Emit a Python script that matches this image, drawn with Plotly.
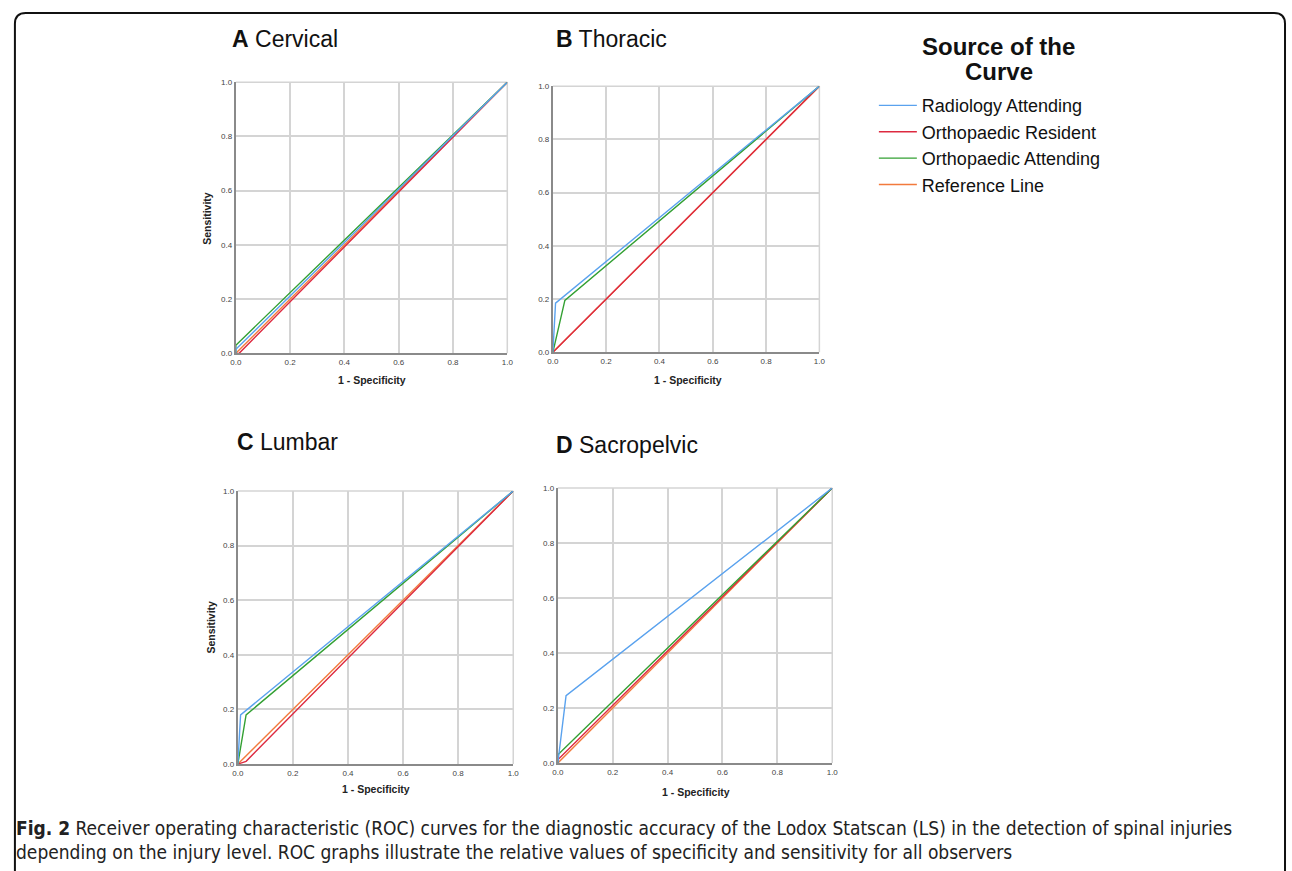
import plotly.graph_objects as go

# ---------------- data ----------------
panels = ["A", "B", "C", "D"]
panel_names = ["Cervical", "Thoracic", "Lumbar", "Sacropelvic"]
series = ["Radiology Attending", "Orthopaedic Resident", "Orthopaedic Attending", "Reference Line"]
colors = ["#5aa2ee", "#dd2a40", "#33a033", "#f27a3c"]

# ROC points (1 - specificity, sensitivity) for each panel / series
radiology_x = [[0, 0.0, 1], [0, 0.01, 1], [0, 0.01, 1], [0, 0.03, 1]]
radiology_y = [[0, 0.015, 1], [0, 0.185, 1], [0, 0.18, 1], [0, 0.245, 1]]
resident_x = [[0, 0.012, 1], [0, 0.002, 1], [0, 0.03, 1], [0, 0.0, 1]]
resident_y = [[0, 0.0, 1], [0, 0.002, 1], [0, 0.01, 1], [0, 0.012, 1]]
ortho_att_x = [[0, 0.0, 1], [0, 0.045, 1], [0, 0.03, 1], [0, 0.0, 1]]
ortho_att_y = [[0, 0.03, 1], [0, 0.195, 1], [0, 0.18, 1], [0, 0.03, 1]]
ref_x = [0, 1]
ref_y = [0, 1]

tick_vals = [0.0, 0.2, 0.4, 0.6, 0.8, 1.0]
tick_text = ["0.0", "0.2", "0.4", "0.6", "0.8", "1.0"]

caption_1 = ("<b>Fig. 2</b> Receiver operating characteristic (ROC) curves for the diagnostic accuracy "
             "of the Lodox Statscan (LS) in the detection of spinal injuries")
caption_2 = ("depending on the injury level. ROC graphs illustrate the relative values of specificity "
             "and sensitivity for all observers")

# ---------------- layout helpers ----------------
W, H = 1292, 871


def px(x):
    return x / W


def py(y):
    return 1 - y / H


# plot boxes in pixels: (left, right, top, bottom)
boxes = [(232, 506, 79, 353), (552, 821, 83, 352), (234, 512, 492, 768), (557, 834, 489, 767)]
title_pos = [(226, 35), (553, 35), (231, 443), (553, 446)]
xtitle_pos = [(369, 380), (688, 380), (373, 793), (696, 796)]
ytitle_pos = {0: (203, 217), 2: (207, 630)}

fig = go.Figure()
font_main = "Liberation Sans, Arial, sans-serif"

annotations = []
shapes = []
for i in range(4):
    xa = "x" if i == 0 else f"x{i+1}"
    ya = "y" if i == 0 else f"y{i+1}"
    show = (i == 0)
    data = [
        (ref_x, ref_y, 3, 4),
        (resident_x[i], resident_y[i], 1, 2),
        (ortho_att_x[i], ortho_att_y[i], 2, 3),
        (radiology_x[i], radiology_y[i], 0, 1),
    ]
    for xs, ys, si, rank in data:
        fig.add_trace(go.Scatter(
            x=xs, y=ys, mode="lines", name=series[si],
            line=dict(color=colors[si], width=1.4),
            xaxis=xa, yaxis=ya, showlegend=show, legendrank=rank,
            hoverinfo="skip"))
    l, r, t, b = boxes[i]
    ax = dict(domain=[px(l), px(r)], range=[0, 1], tickvals=tick_vals, ticktext=tick_text,
              showgrid=True, gridcolor="#d4d4d4", gridwidth=1.5, zeroline=False,
              showline=True, linecolor="#8a8a8a", linewidth=2, ticks="",
              tickfont=dict(size=8, color="#444", family=font_main), fixedrange=True)
    xkey = "xaxis" if i == 0 else f"xaxis{i+1}"
    ykey = "yaxis" if i == 0 else f"yaxis{i+1}"
    xd = dict(ax)
    xd["anchor"] = ya
    yd = dict(ax)
    yd["domain"] = [py(b), py(t)]
    yd["anchor"] = xa
    fig.update_layout({xkey: xd, ykey: yd})

    # grid lines at 1.0 (top and right edges)
    shapes.append(dict(type="line", xref=f"{xa} domain", yref=f"{ya} domain",
                       x0=1, x1=1, y0=0, y1=1, line=dict(color="#d4d4d4", width=1.5), layer="below"))
    shapes.append(dict(type="line", xref=f"{xa} domain", yref=f"{ya} domain",
                       x0=0, x1=1, y0=1, y1=1, line=dict(color="#d4d4d4", width=1.5), layer="below"))

    # panel title
    tx, ty = title_pos[i]
    annotations.append(dict(
        text=f"<b>{panels[i]}</b> {panel_names[i]}", x=px(tx), y=py(ty),
        xref="paper", yref="paper", xanchor="left", yanchor="middle",
        showarrow=False, font=dict(size=23, color="#111", family=font_main)))
    # x-axis title
    ax_x, ax_y = xtitle_pos[i]
    annotations.append(dict(
        text="<b>1 - Specificity</b>", x=px(ax_x), y=py(ax_y), xref="paper", yref="paper",
        xanchor="center", yanchor="middle", showarrow=False,
        font=dict(size=10.5, color="#222", family=font_main)))
    if i in ytitle_pos:
        yx, yy = ytitle_pos[i]
        annotations.append(dict(
            text="<b>Sensitivity</b>", x=px(yx), y=py(yy), xref="paper", yref="paper",
            xanchor="center", yanchor="middle", textangle=-90, showarrow=False,
            font=dict(size=10.5, color="#222", family=font_main)))

# legend title (two lines)
annotations.append(dict(
    text="<b>Source of the</b>", x=px(1002), y=py(43), xref="paper", yref="paper",
    xanchor="center", yanchor="middle", showarrow=False,
    font=dict(size=24, color="#111", family=font_main)))
annotations.append(dict(
    text="<b>Curve</b>", x=px(1002), y=py(68), xref="paper", yref="paper",
    xanchor="center", yanchor="middle", showarrow=False,
    font=dict(size=24, color="#111", family=font_main)))

# caption
cap_font = dict(size=19, color="#222", family="Liberation Sans Narrow, DejaVu Sans Condensed, sans-serif")
annotations.append(dict(
    text=caption_1, x=px(8), y=py(833), xref="paper", yref="paper", xanchor="left",
    yanchor="middle", showarrow=False, font=cap_font))
annotations.append(dict(
    text=caption_2, x=px(8), y=py(857), xref="paper", yref="paper", xanchor="left",
    yanchor="middle", showarrow=False, font=cap_font))

# outer rounded border
rr = 11
L, T, R = 9, 9, 1291
border = (f"M {px(L)},{py(900)} L {px(L)},{py(T + rr)} Q {px(L)},{py(T)} {px(L + rr)},{py(T)} "
          f"L {px(R - rr)},{py(T)} Q {px(R)},{py(T)} {px(R)},{py(T + rr)} L {px(R)},{py(900)}")
shapes.append(dict(type="path", path=border, xref="paper", yref="paper",
                   line=dict(color="#111", width=2)))

fig.update_layout(
    width=W, height=H, margin=dict(l=0, r=0, t=0, b=0),
    paper_bgcolor="white", plot_bgcolor="white",
    annotations=annotations,
    shapes=shapes,
    legend=dict(x=px(876), y=py(84), xanchor="left", yanchor="top",
                font=dict(size=18, color="#111", family=font_main),
                bgcolor="rgba(0,0,0,0)", tracegroupgap=0, itemwidth=38,
                traceorder="normal"),
    showlegend=True,
)

post = (
    "document.documentElement.style.margin='0';"
    "document.body.style.margin='0';"
    "document.body.style.overflow='hidden';"
    "document.documentElement.style.overflow='hidden';"
    "var gd=document.querySelector('.plotly-graph-div');"
    "gd.style.position='fixed';gd.style.left='0px';gd.style.top='0px';"
)
fig.write_html("out.html", config={"displayModeBar": False}, post_script=post)
